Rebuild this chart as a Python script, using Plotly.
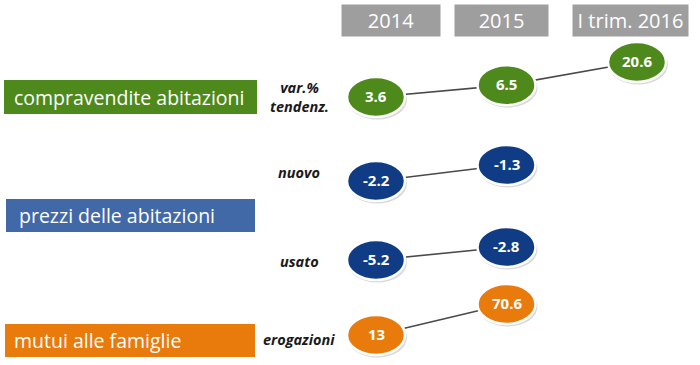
import math
import plotly.graph_objects as go

# ---------------- data ----------------
periods = ["2014", "2015", "I trim. 2016"]
sections = ["compravendite abitazioni", "prezzi delle abitazioni", "mutui alle famiglie"]
row_labels = ["var.%<br>tendenz.", "nuovo", "usato", "erogazioni"]
compravendite_var = [3.6, 6.5, 20.6]
prezzi_nuovo = [-2.2, -1.3]
prezzi_usato = [-5.2, -2.8]
mutui_erogazioni = [13, 70.6]

# ---------------- style ----------------
W, H = 700, 365
GREEN = "#4e8a1b"
BLUE_BOX = "#4169a8"
DARK_BLUE = "#0f3c84"
ORANGE = "#e97a0c"
GRAY = "#9e9e9e"
LINE = "#4a4a4a"
FONT = "Open Sans"


def px_to_paper_y(p):
    return 1 - p / H


def axis_range(va, pa, vb, pb):
    """Range of a full-height y axis so that va sits at pixel pa and vb at pb."""
    ya, yb = px_to_paper_y(pa), px_to_paper_y(pb)
    s = (yb - ya) / (vb - va)
    r0 = va - ya / s
    return [r0, r0 + 1 / s]


# x axis: category index -> pixel (0 -> 376px, step 130.5px)
X0_PX, X_STEP = 376, 130.5
x_range = [-X0_PX / X_STEP, -X0_PX / X_STEP + W / X_STEP]

rows = [
    dict(vals=compravendite_var, color=GREEN, log=True, anchors=(97, 62), label=row_labels[0], label_px=97),
    dict(vals=prezzi_nuovo, color=DARK_BLUE, log=False, anchors=(181, 165), label=row_labels[1], label_px=173),
    dict(vals=prezzi_usato, color=DARK_BLUE, log=False, anchors=(260, 247), label=row_labels[2], label_px=261),
    dict(vals=mutui_erogazioni, color=ORANGE, log=False, anchors=(335, 304), label=row_labels[3], label_px=339),
]

fig = go.Figure()
shapes = []
annotations = []
layout_axes = {}

for k, row in enumerate(rows):
    yname = "y" if k == 0 else f"y{k + 1}"
    axkey = "yaxis" if k == 0 else f"yaxis{k + 1}"
    vals = row["vals"]
    # green row is placed on a logarithmic scale
    ys = [math.log10(v) for v in vals] if row["log"] else list(vals)
    xs = list(range(len(vals)))
    rng = axis_range(ys[0], row["anchors"][0], ys[-1], row["anchors"][1])
    ax = dict(range=rng, domain=[0, 1], visible=False, fixedrange=True)
    if k > 0:
        ax["overlaying"] = "y"
    layout_axes[axkey] = ax

    # connecting line
    fig.add_trace(go.Scatter(x=xs, y=ys, yaxis=yname, mode="lines",
                             line=dict(color=LINE, width=1.6),
                             hoverinfo="skip", showlegend=False))

    for i, (v, yv) in enumerate(zip(vals, ys)):
        # shadow
        shapes.append(dict(type="circle", xref="x", yref=yname,
                           xsizemode="pixel", ysizemode="pixel",
                           xanchor=i, yanchor=yv,
                           x0=-28.5, x1=31, y0=-22.5, y1=17.5,
                           fillcolor="rgba(0,0,0,0.15)", line=dict(width=0),
                           layer="above"))
        # ellipse
        shapes.append(dict(type="circle", xref="x", yref=yname,
                           xsizemode="pixel", ysizemode="pixel",
                           xanchor=i, yanchor=yv,
                           x0=-29, x1=29, y0=-20, y1=20,
                           fillcolor=row["color"], line=dict(color="white", width=2.5),
                           layer="above"))
        annotations.append(dict(x=i, y=yv, xref="x", yref=yname, showarrow=False,
                                xanchor="center", yanchor="middle",
                                text=f"<b>{v:g}</b>", yshift=1,
                                font=dict(family=FONT, size=15, color="white")))

    # row sub label
    annotations.append(dict(x=299 / W, y=px_to_paper_y(row["label_px"]), xref="paper", yref="paper",
                            xanchor="center", yanchor="middle",
                            showarrow=False, text=f"<b><i>{row['label']}</i></b>",
                            font=dict(family=FONT, size=14.5, color="#1a1a1a"), align="center"))

# header boxes (period labels)
header_w = [98, 93, 115]
header_shift = [15, -5, -7]
for i, p in enumerate(periods):
    annotations.append(dict(x=i, y=px_to_paper_y(20.5), xref="x", yref="paper",
                            xanchor="center", yanchor="middle",
                            showarrow=False, text=p, xshift=header_shift[i],
                            width=header_w[i], height=31, bgcolor=GRAY, borderpad=0,
                            font=dict(family=FONT, size=20, color="white")))

# section boxes
section_boxes = [
    (GREEN, 4, 257, 80, 114, 12),
    (BLUE_BOX, 6, 255, 199, 232, 17),
    (ORANGE, 5, 255, 324, 357, 12),
]
for name, (col, x0, x1, y0, y1, tx) in zip(sections, section_boxes):
    shapes.append(dict(type="rect", xref="paper", yref="paper",
                       x0=x0 / W, x1=x1 / W, y0=px_to_paper_y(y1), y1=px_to_paper_y(y0),
                       fillcolor=col, line=dict(width=0), layer="below"))
    annotations.append(dict(x=tx / W, y=px_to_paper_y((y0 + y1) / 2), xref="paper", yref="paper",
                            xanchor="left", yanchor="middle", showarrow=False, text=name,
                            font=dict(family=FONT, size=19.5, color="white")))

fig.update_layout(
    width=W, height=H,
    margin=dict(l=0, r=0, t=0, b=0),
    paper_bgcolor="white", plot_bgcolor="rgba(0,0,0,0)",
    xaxis=dict(range=x_range, visible=False, fixedrange=True, domain=[0, 1]),
    shapes=shapes, annotations=annotations,
    showlegend=False,
    **layout_axes,
)

fig.write_html("out.html", config={"displayModeBar": False},
               post_script="document.body.style.margin='0';document.body.style.padding='0';")
